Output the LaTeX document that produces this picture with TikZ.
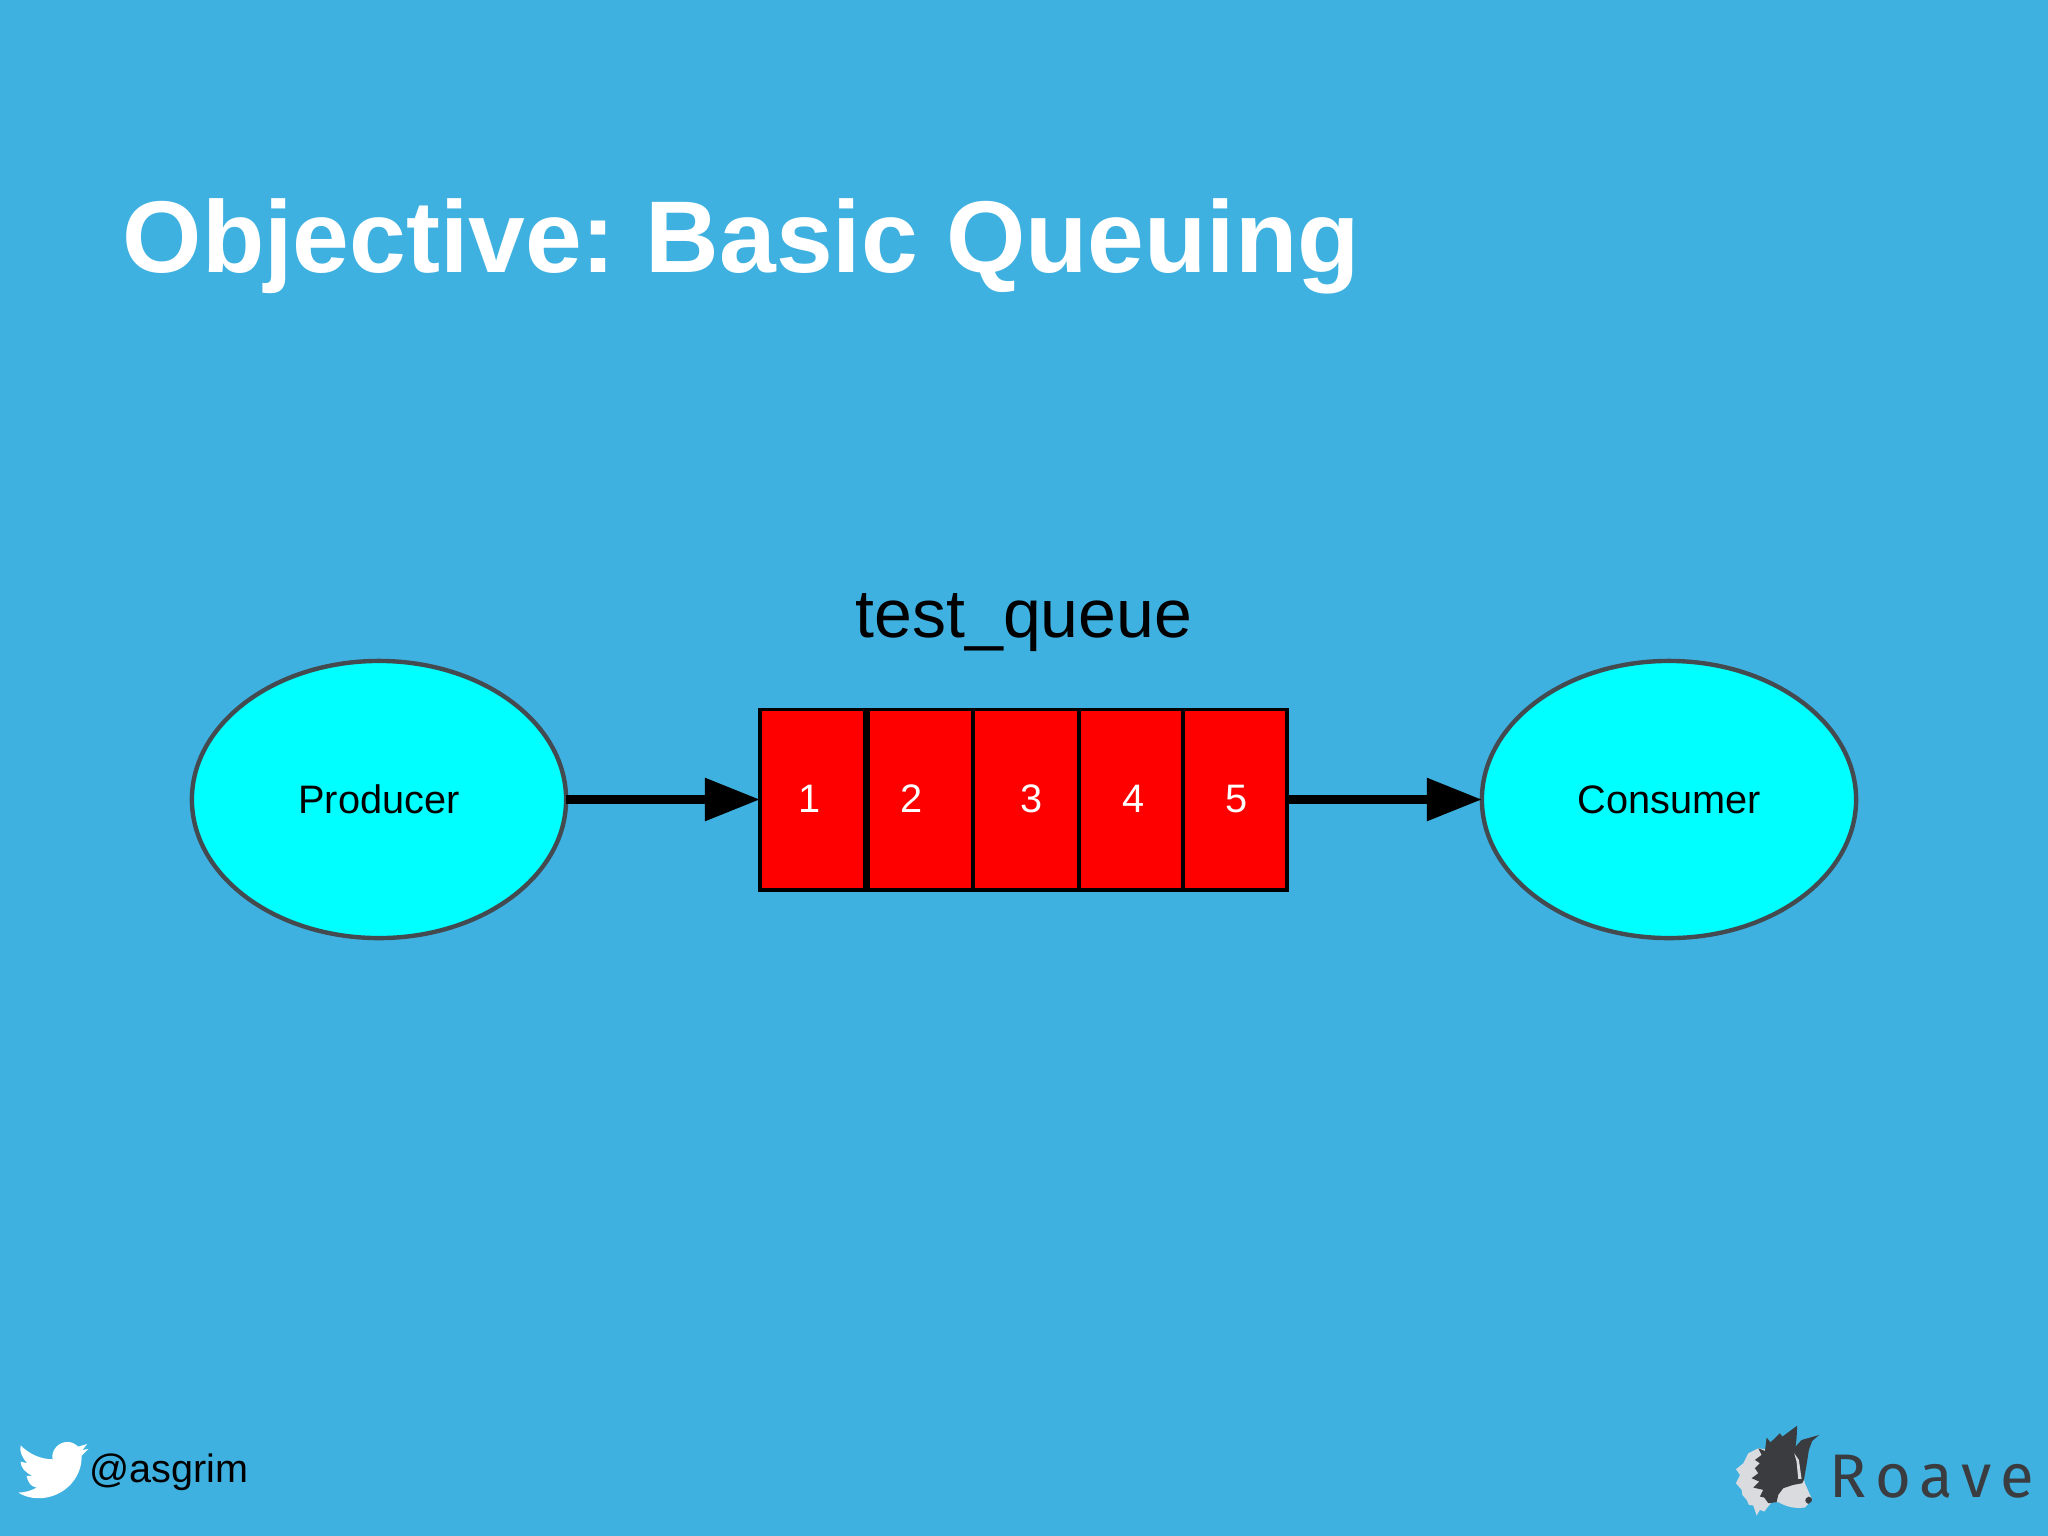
\documentclass[tikz,border=0pt]{standalone}
\usepackage{fontspec}
\setmainfont{Liberation Sans}
\newfontfamily\roavefont[LetterSpace=15]{Fira Sans}
\usetikzlibrary{arrows.meta,positioning,shapes.geometric}
\definecolor{slideblue}{HTML}{3FB1E0}
\definecolor{peercyan}{RGB}{0,255,255}
\definecolor{cellred}{RGB}{255,0,0}
\definecolor{rimgrey}{HTML}{444B50}
\definecolor{dogdark}{HTML}{3A3C40}
\definecolor{doglight}{HTML}{D9DBDE}
\tikzset{
  peer/.style={ellipse,draw=rimgrey,fill=peercyan,line width=1.25pt,minimum width=3.74cm,
    minimum height=2.77cm,inner sep=0pt,outer sep=0pt,font=\fontsize{11.3}{13}\selectfont},
  qcell/.style={rectangle,draw=black,fill=cellred,line width=1.1pt,minimum height=1.80cm,
    inner sep=0pt,outer sep=0pt},
  qnum/.style={text=white,inner sep=0pt,font=\fontsize{11.3}{13}\selectfont},
  flow/.style={line width=2.5pt,-{Triangle[length=0.55cm,width=0.41cm]}},
}
\begin{document}
\begin{tikzpicture}[x=0.01cm,y=-0.01cm]
  \useasboundingbox (0,0) rectangle (2048,1536);
  \fill[slideblue] (0,0) rectangle (2048,1536); %Slide background

  \node[anchor=base west,inner sep=0pt,text=white,font=\fontsize{29}{34}\selectfont\bfseries] (title) at (122,272.5) {Objective:\kern-2.2pt{} Basic Queuing}; %Title
  \node[inner sep=0pt,anchor=base,font=\fontsize{19.35}{23}\selectfont] (qname) at (1024,637) {test\_queue}; %Queue name

  \node[peer] (producer) at (379,799.5) {Producer}; %Left ellipse
  \node[peer] (consumer) at (1669,799.5) {Consumer}; %Right ellipse

  \node[qcell,minimum width=1.05cm] (cell1) at (812.5,799.5) {}; %Queue cells
  \node[qcell,minimum width=1.05cm] (cell2) at (920.5,799.5) {};
  \node[qcell,minimum width=1.06cm] (cell3) at (1026,799.5) {};
  \node[qcell,minimum width=1.04cm] (cell4) at (1131,799.5) {};
  \node[qcell,minimum width=1.04cm] (cell5) at (1235,799.5) {};

  \node[qnum] (num1) at (810,799) {1}; %Cell numbers
  \node[qnum] (num2) at (912,799) {2};
  \node[qnum] (num3) at (1031.5,799) {3};
  \node[qnum] (num4) at (1133.5,799) {4};
  \node[qnum] (num5) at (1236.5,799) {5};

  \draw[flow] (producer.east) -- (cell1.west); %Arrow into queue
  \draw[flow] (cell5.east) -- (consumer.west); %Arrow out of queue

  \begin{scope}[shift={(0,1420)},x=0.00333cm,y=-0.00333cm] %Bird
    \fill[white] (55,218) .. controls (75,218) and (95,212) .. (110,203)
      .. controls (95,200) and (85,192) .. (80,168)
      -- (97,168) .. controls (78,158) and (62,145) .. (62,125) -- (82,130)
      .. controls (66,112) and (58,95) .. (62,76)
      .. controls (85,100) and (120,118) .. (158,118)
      .. controls (152,90) and (178,64) .. (205,66)
      .. controls (218,66) and (228,74) .. (235,80)
      -- (262,72) -- (248,90) -- (266,87) -- (245,108)
      .. controls (248,170) and (195,235) .. (115,235)
      .. controls (92,235) and (70,228) .. (55,218) -- cycle;
  \end{scope}
  \node[anchor=base west,inner sep=0pt,font=\fontsize{11.25}{13}\selectfont] (handle) at (89,1482) {@asgrim}; %Twitter handle

  \begin{scope}[shift={(1725,1415)},x=0.00333cm,y=-0.00333cm] %Dog logo
    \fill[doglight] (100,100) -- (70,115) -- (55,145) -- (33,163) -- (45,180) -- (33,205) -- (50,225)
      -- (52,240) -- (65,255) -- (72,270) -- (85,272) -- (95,302) -- (105,285) -- (118,290)
      -- (140,262) -- (160,262) .. controls (185,275) and (205,282) .. (240,278)
      -- (262,255) -- (240,205) -- (225,130) -- (210,115) -- cycle;
    \fill[dogdark] (100,100) -- (120,108) -- (125,68) -- (137,82) -- (165,55) -- (172,65) -- (217,32)
      -- (215,70) -- (212,95) -- (230,75) -- (283,60) -- (262,78) -- (252,105) -- (245,150) -- (237,195)
      -- (232,205) -- (205,210) -- (175,220) -- (160,240) -- (155,262) -- (130,265) -- (118,248)
      -- (105,245) -- (115,225) -- (85,218) -- (103,200) -- (80,190) -- (100,175) -- (90,160)
      -- (105,145) -- (90,135) -- (110,120) -- cycle;
    \fill[doglight] (208,115) -- (222,135) -- (230,192) -- (220,192) -- (215,140) -- cycle; %Stripe
    \fill[dogdark] (252,245) .. controls (265,248) and (265,262) .. (250,267) .. controls (238,262) and (238,250) .. (252,245) -- cycle; %Nose
  \end{scope}
  \node[anchor=base west,inner sep=0pt,text=dogdark,font=\fontsize{17.5}{20}\selectfont\roavefont] (roave) at (1829,1497) {Roave}; %Logo text
\end{tikzpicture}
\end{document}
